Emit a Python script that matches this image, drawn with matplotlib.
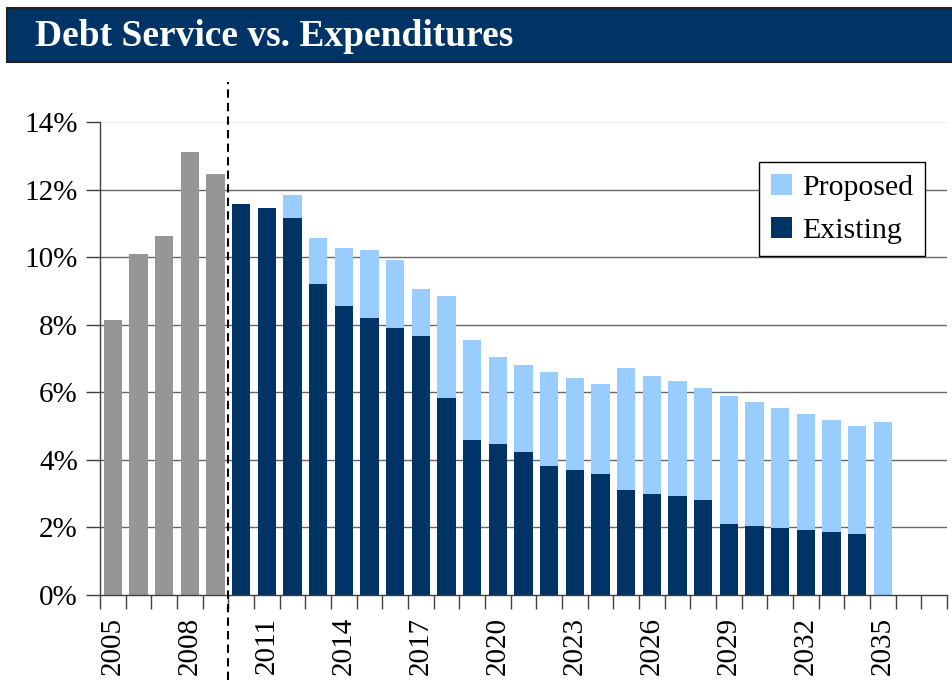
import numpy as np
import matplotlib
matplotlib.use("Agg")
import matplotlib.pyplot as plt
from matplotlib.patches import Rectangle
from matplotlib.ticker import FixedLocator, PercentFormatter

years = list(range(2005, 2038))

hist_years = [2005, 2006, 2007, 2008, 2009]
hist_values = [8.14, 10.09, 10.62, 13.11, 12.46]

proj_years = list(range(2010, 2036))
existing = [11.57, 11.45, 11.16, 9.20, 8.55, 8.20, 7.90, 7.66, 5.83, 4.59,
            4.47, 4.23, 3.82, 3.70, 3.58, 3.11, 2.99, 2.93, 2.81, 2.10,
            2.04, 1.98, 1.92, 1.86, 1.81, 0.0]
total = [11.57, 11.45, 11.84, 10.57, 10.27, 10.21, 9.91, 9.06, 8.85, 7.55,
         7.04, 6.81, 6.60, 6.42, 6.24, 6.72, 6.48, 6.33, 6.13, 5.89,
         5.71, 5.53, 5.36, 5.18, 5.00, 5.12]
proposed = [t - e for t, e in zip(total, existing)]

label_years = [2005, 2008, 2011, 2014, 2017, 2020, 2023, 2026, 2029, 2032, 2035]

NAVY = "#003366"
LIGHT = "#99ccff"
GRAY = "#969696"

plt.rcParams["font.family"] = ["Liberation Serif", "DejaVu Serif"]

fig = plt.figure(figsize=(9.53, 6.91), dpi=100)
fig.patch.set_facecolor("white")

# title banner
fig.add_artist(Rectangle((7 / 953, 1 - 62 / 691), 1.0, 54 / 691, transform=fig.transFigure,
                         facecolor=NAVY, edgecolor="#222222", linewidth=1.5))
fig.text(35 / 953, 1 - 37 / 691, "Debt Service vs. Expenditures", color="white",
         fontsize=27, fontweight="bold", va="center", ha="left")

ax = fig.add_axes([100 / 953, 1 - 595 / 691, 847 / 953, 473 / 691])

w = 0.72
ax.bar(hist_years, hist_values, width=w, color=GRAY, zorder=3)
ax.bar(proj_years, existing, width=w, color=NAVY, zorder=3, label="Existing")
ax.bar(proj_years, proposed, width=w, bottom=existing, color=LIGHT, zorder=3, label="Proposed")

ax.set_xlim(years[0] - 0.5, years[-1] + 0.5)
ax.set_ylim(0, 14)
ax.set_yticks(np.arange(0, 15, 2))
ax.yaxis.set_major_formatter(PercentFormatter(decimals=0))

ax.set_xticks(label_years)
ax.set_xticklabels([str(y) for y in label_years], rotation=90)
ax.xaxis.set_minor_locator(FixedLocator(np.arange(years[0] - 0.5, years[-1] + 1, 1)))
ax.tick_params(axis="x", which="major", length=0, pad=16, labelsize=21)
ax.tick_params(axis="x", which="minor", length=10, width=1, color="#404040", direction="out")
ax.tick_params(axis="y", length=10, width=1, color="#404040", direction="out", labelsize=21, pad=6)

for v in range(2, 14, 2):
    ax.axhline(v, color="#666666", linewidth=1, zorder=1)
ax.axhline(14, color="#eeeeee", linewidth=1, zorder=1)

for s in ["top", "right"]:
    ax.spines[s].set_visible(False)
for s in ["left", "bottom"]:
    ax.spines[s].set_color("#404040")
    ax.spines[s].set_linewidth(1)
    ax.spines[s].set_zorder(4)

# forecast divider
ax.axvline(2009.5, ymin=-0.18, ymax=1.085, color="black", linewidth=1.5,
           linestyle=(0, (4, 2.5)), clip_on=False, zorder=5)

handles, labels = ax.get_legend_handles_labels()
leg = ax.legend(handles[::-1], labels[::-1], loc="upper left", bbox_to_anchor=(659 / 847, 1 - 40 / 473),
                fontsize=21.5, frameon=True, fancybox=False, edgecolor="black", framealpha=1,
                handlelength=0.7, handleheight=0.7, handletextpad=0.35, borderpad=0.4,
                labelspacing=0.55, borderaxespad=0)
leg.get_frame().set_linewidth(1)

fig.savefig("out.png", dpi=100, facecolor="white")
